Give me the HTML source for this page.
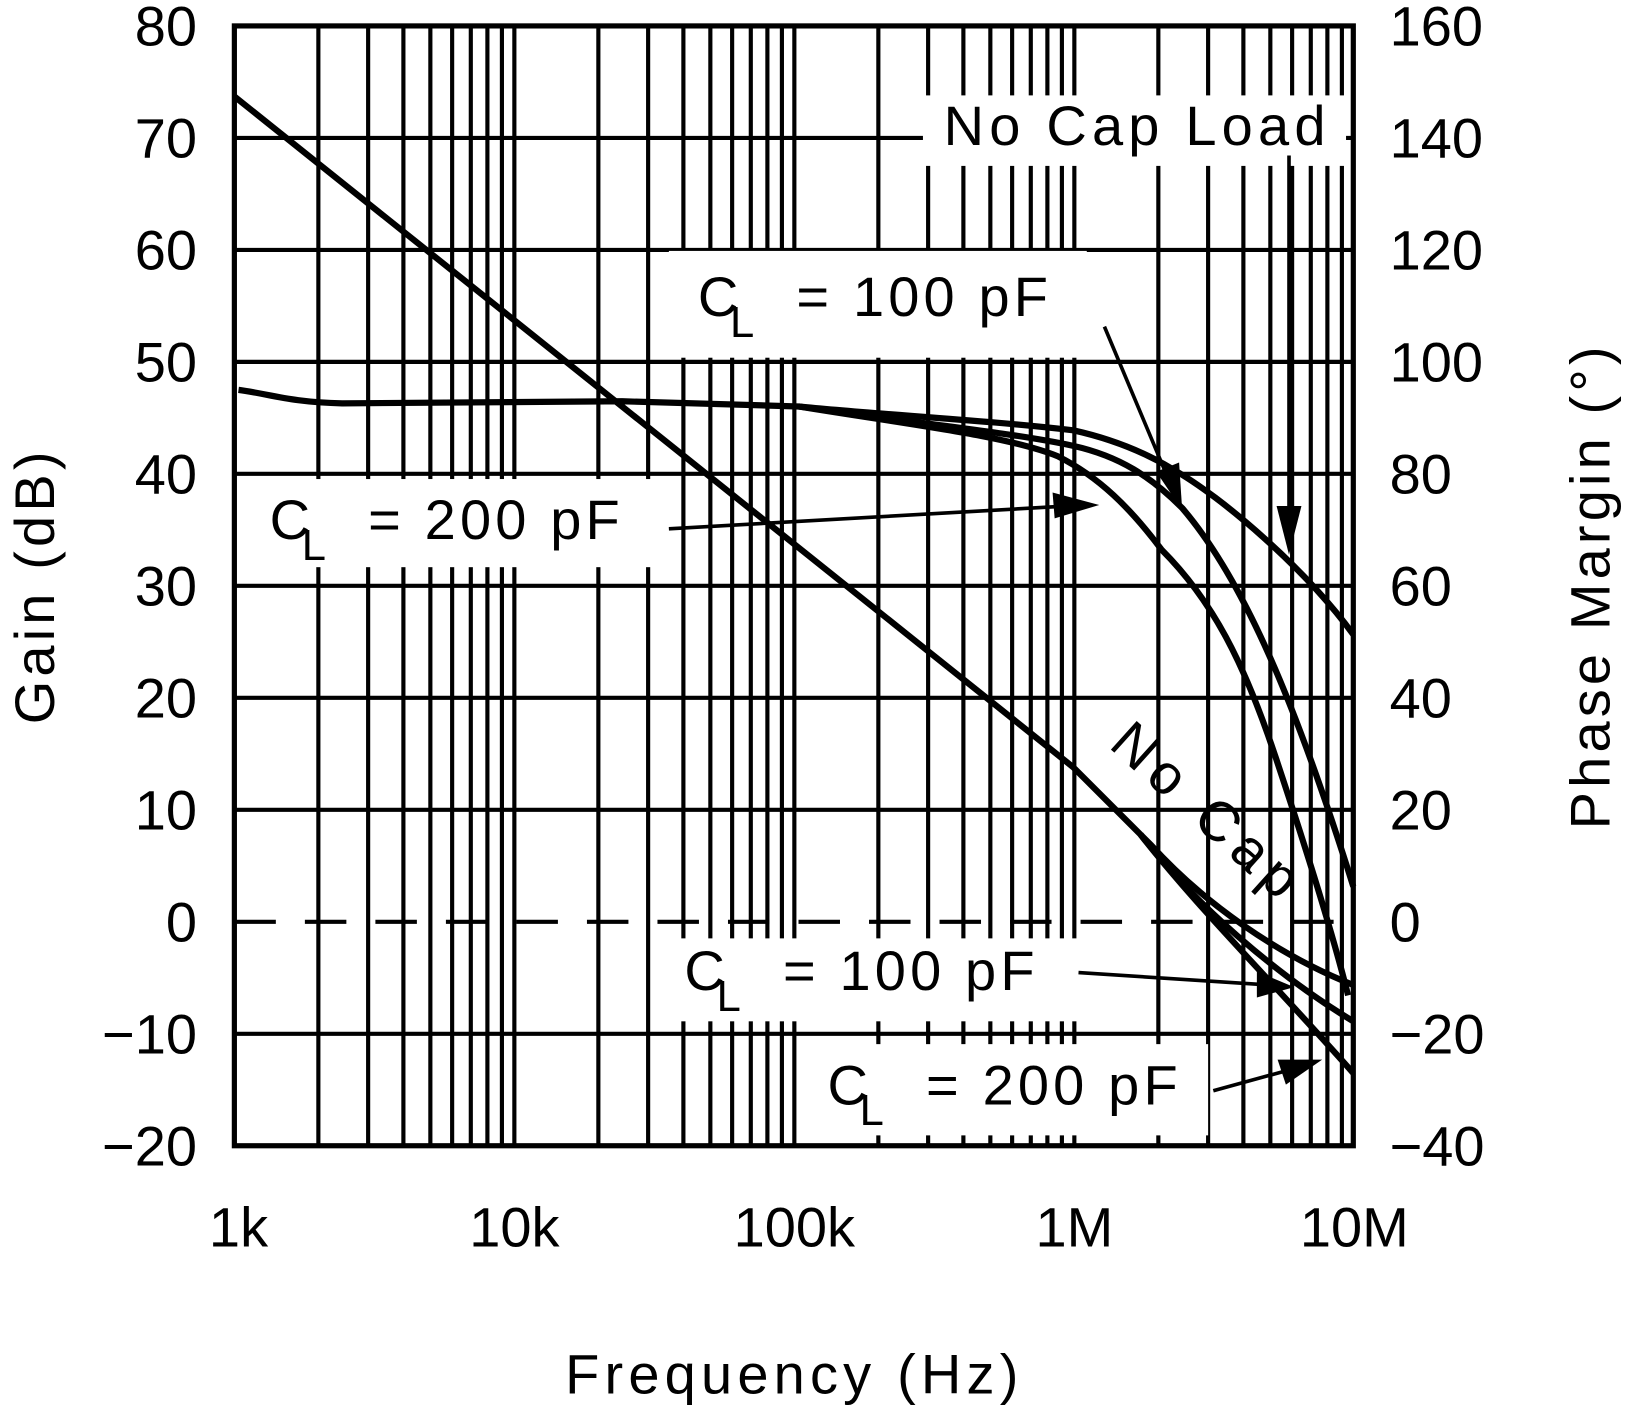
<!DOCTYPE html>
<html><head><meta charset="utf-8"><style>
html,body{margin:0;padding:0;background:#fff}
svg{display:block}
text{font-family:"Liberation Sans",sans-serif;fill:#000}
</style></head><body>
<svg width="1625" height="1406" viewBox="0 0 1567 1356" preserveAspectRatio="none" xmlns="http://www.w3.org/2000/svg">
<g stroke="#000" stroke-width="4" fill="none">
<path d="M307 25V1105M355 25V1105M389 25V1105M415 25V1105M436 25V1105M454 25V1105M470 25V1105M484 25V1105M496 25V1105M577 25V1105M625 25V1105M659 25V1105M685 25V1105M706 25V1105M724 25V1105M740 25V1105M754 25V1105M766 25V1105M847 25V1105M895 25V1105M929 25V1105M955 25V1105M976 25V1105M994 25V1105M1010 25V1105M1024 25V1105M1036 25V1105M1117 25V1105M1165 25V1105M1199 25V1105M1225 25V1105M1246 25V1105M1264 25V1105M1280 25V1105M1294 25V1105"/>
<path d="M226 133H1305M226 241H1305M226 349H1305M226 457H1305M226 565H1305M226 673H1305M226 781H1305M226 997H1305"/>
<path d="M226 889H1305" stroke-dasharray="40 28"/>
<rect x="226" y="25" width="1079" height="1080" stroke-width="5"/>
</g>
<g fill="#fff">
<rect x="890" y="92" width="408" height="68"/>
<rect x="645" y="242" width="403" height="103"/>
<rect x="240" y="462" width="400" height="85"/>
<rect x="645" y="905" width="395" height="80"/>
<rect x="785" y="1007" width="380" height="88"/>
</g>
<g font-size="54">
<g text-anchor="end">
<text x="190" y="44">80</text><text x="190" y="152">70</text><text x="190" y="260">60</text><text x="190" y="368">50</text><text x="190" y="476">40</text><text x="190" y="584">30</text><text x="190" y="692">20</text><text x="190" y="800">10</text><text x="190" y="908">0</text><text x="190" y="1016">−10</text><text x="190" y="1124">−20</text>
</g>
<g text-anchor="start">
<text x="1340" y="44">160</text><text x="1340" y="152">140</text><text x="1340" y="260">120</text><text x="1340" y="368">100</text><text x="1340" y="476">80</text><text x="1340" y="584">60</text><text x="1340" y="692">40</text><text x="1340" y="800">20</text><text x="1340" y="908">0</text><text x="1340" y="1016">−20</text><text x="1340" y="1124">−40</text>
</g>
<g text-anchor="middle">
<text x="230" y="1202">1k</text><text x="496" y="1202">10k</text><text x="766" y="1202">100k</text><text x="1036" y="1202">1M</text><text x="1306" y="1202">10M</text>
<text x="766" y="1344" letter-spacing="5">Frequency (Hz)</text>
<text transform="translate(52,565) rotate(-90)" letter-spacing="4">Gain (dB)</text>
<text transform="translate(1552,565) rotate(-90)" letter-spacing="4">Phase Margin (°)</text>
</g>
<text x="910" y="140" letter-spacing="5">No Cap Load</text>
<text x="673" y="305">C</text><text x="704" y="325" font-size="42">L</text><text x="768" y="305" letter-spacing="4">=  100 pF</text>
<text x="260" y="520">C</text><text x="291" y="540" font-size="42">L</text><text x="355" y="520" letter-spacing="4">=  200 pF</text>
<text x="660" y="955">C</text><text x="691" y="975" font-size="42">L</text><text x="755" y="955" letter-spacing="4">=  100 pF</text>
<text x="798" y="1065">C</text><text x="829" y="1085" font-size="42">L</text><text x="893" y="1065" letter-spacing="4">=  200 pF</text>
<text transform="translate(1068,720) rotate(42)" letter-spacing="8">No Cap</text>
</g>
<g stroke="#000" stroke-width="6" fill="none" stroke-linejoin="round">
<path d="M226 93 L1035 740 L1110 815 C1160 870 1230 920 1305 950"/>
<path d="M1100 805 C1150 870 1230 940 1305 985"/>
<path d="M1100 805 C1150 870 1230 950 1305 1035"/>
<path d="M230 376 C260 380 280 388 330 389 L600 387 L770 392 C850 400 950 405 1035 415 C1080 425 1110 440 1130 452 C1180 480 1260 550 1305 612"/>
<path d="M770 392 C900 410 980 418 1035 430 C1080 440 1110 460 1140 490 C1200 560 1250 680 1305 855"/>
<path d="M770 392 C880 410 970 420 1020 440 C1060 460 1090 490 1120 530 C1170 580 1200 640 1230 730 C1260 820 1285 900 1300 960"/>
</g>
<g stroke="#000" stroke-width="3.5">
<path d="M1243 150V500"/><path d="M1065 315L1130 470"/><path d="M645 510L1030 488"/><path d="M1040 938L1225 950"/><path d="M1170 1052L1250 1030"/>
</g>
<g fill="#000">
<polygon points="1243,535 1231,488 1255,488"/>
<polygon points="1140,492 1115,455 1137,446"/>
<polygon points="1060,487 1015,475 1017,500"/>
<polygon points="1248,952 1212,937 1212,962"/>
<polygon points="1275,1022 1232,1022 1240,1046"/>
</g>
</svg>
</body></html>
